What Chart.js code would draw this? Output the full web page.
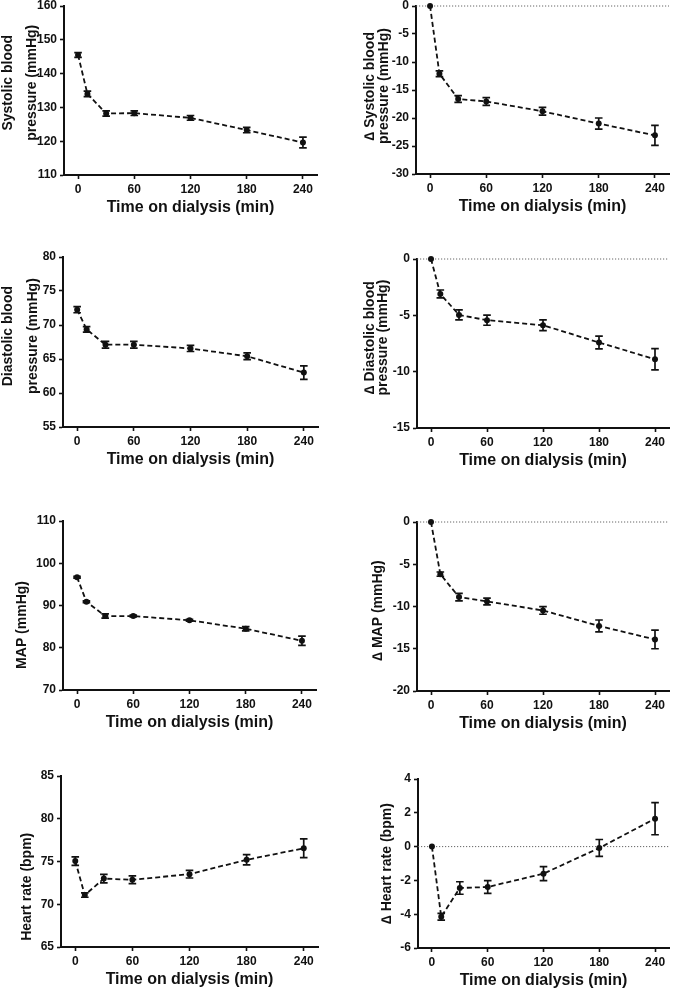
<!DOCTYPE html>
<html>
<head>
<meta charset="utf-8">
<script src="https://cdn.jsdelivr.net/npm/chart.js@4.4.1/dist/chart.umd.min.js"></script>
<style>
html,body{margin:0;padding:0;background:#fff;}
body{width:673px;height:992px;position:relative;overflow:hidden;}
canvas{position:absolute;}
</style>
</head>
<body>
<canvas id="c1"></canvas><canvas id="c2"></canvas>
<canvas id="c3"></canvas><canvas id="c4"></canvas>
<canvas id="c5"></canvas><canvas id="c6"></canvas>
<canvas id="c7"></canvas><canvas id="c8"></canvas>
<script>
// ---------- DATA ----------
const times = [0, 10, 30, 60, 120, 180, 240];
const xTickValues = [0, 60, 120, 180, 240];
const xTitle = 'Time on dialysis (min)';

const sbp      = [145.5, 134.0, 128.2, 128.3, 126.9, 123.3, 119.6];
const sbpErr   = [0.7, 0.8, 0.8, 0.7, 0.7, 0.8, 1.6];
const dSbp     = [0, -12.1, -16.6, -17.05, -18.8, -21.0, -23.1];
const dSbpErr  = [0, 0.5, 0.6, 0.7, 0.7, 1.0, 1.8];

const dbp      = [72.25, 69.35, 67.1, 67.1, 66.55, 65.4, 63.0];
const dbpErr   = [0.45, 0.4, 0.5, 0.5, 0.45, 0.5, 1.0];
const dDbp     = [0, -3.1, -4.96, -5.43, -5.88, -7.41, -8.9];
const dDbpErr  = [0, 0.35, 0.44, 0.45, 0.47, 0.56, 0.94];

const map      = [96.7, 90.9, 87.5, 87.5, 86.5, 84.5, 81.65];
const mapErr   = [0.2, 0.2, 0.5, 0.2, 0.2, 0.5, 1.1];
const dMap     = [0, -6.17, -8.89, -9.4, -10.47, -12.3, -13.9];
const dMapErr  = [0, 0.25, 0.45, 0.4, 0.45, 0.7, 1.1];

const hr       = [75.05, 71.07, 73.0, 72.86, 73.52, 75.2, 76.55];
const hrErr    = [0.5, 0.25, 0.5, 0.45, 0.45, 0.6, 1.1];
const dHr      = [0, -4.15, -2.45, -2.39, -1.6, -0.08, 1.65];
const dHrErr   = [0, 0.2, 0.37, 0.38, 0.41, 0.5, 0.95];

const yTitles = [
  ['Systolic blood', 'pressure (mmHg)'],
  ['\u2206 Systolic blood', 'pressure (mmHg)'],
  ['Diastolic blood', 'pressure (mmHg)'],
  ['\u2206 Diastolic blood', 'pressure (mmHg)'],
  ['MAP (mmHg)'],
  ['\u2206 MAP (mmHg)'],
  ['Heart rate (bpm)'],
  ['\u2206 Heart rate (bpm)']
];
const yRanges = [
  [110, 160, 10], [-30, 0, 5],
  [55, 80, 5],    [-15, 0, 5],
  [70, 110, 10],  [-20, 0, 5],
  [65, 85, 5],    [-6, 4, 2]
];
const seriesValues = [sbp, dSbp, dbp, dDbp, map, dMap, hr, dHr];
const seriesErrors = [sbpErr, dSbpErr, dbpErr, dDbpErr, mapErr, dMapErr, hrErr, dHrErr];
const hasZeroLine  = [false, true, false, true, false, true, false, true];

// ---------- LAYOUT (page pixels) ----------
const layouts = [
  {cx:0,   cy:0,   cw:336, ch:240, L:64,  T:6,   R:317, B:175, lh:24.5, tp:-4.2, shift:-8.5},
  {cx:336, cy:0,   cw:337, ch:240, L:416, T:6,   R:669, B:174, lh:14,   tp:27.3, shift:-3},
  {cx:0,   cy:240, cw:336, ch:250, L:63,  T:257, R:318, B:427, lh:24.5, tp:-3.8, shift:-5},
  {cx:336, cy:240, cw:337, ch:250, L:417, T:259, R:669, B:428, lh:13,   tp:27.8, shift:-6},
  {cx:0,   cy:490, cw:336, ch:250, L:63,  T:521, R:316, B:690, lh:16.8, tp:13.9, shift:19},
  {cx:336, cy:490, cw:337, ch:250, L:417, T:522, R:669, B:691, lh:16.8, tp:33.9, shift:3},
  {cx:0,   cy:740, cw:336, ch:252, L:61,  T:776, R:318, B:947, lh:16.8, tp:18.9, shift:26},
  {cx:336, cy:740, cw:337, ch:252, L:418, T:779, R:669, B:948, lh:16.8, tp:42.3, shift:0}
];
const X_MIN = -15, X_MAX = 255;
const FONT = '"Liberation Sans", Arial, Helvetica, sans-serif';

function padTitle(lines, shift, size) {
  const n = Math.round(2 * Math.abs(shift) / (0.278 * size));
  const sp = ' '.repeat(n);
  return lines.map(t => shift < 0 ? sp + t : t + sp);
}

const errorBarPlugin = {
  id: 'errorBars',
  afterDatasetsDraw(chart, args, opts) {
    const {ctx, scales: {x, y}} = chart;
    const vals = opts.values, errs = opts.errors;
    ctx.save();
    ctx.strokeStyle = '#111';
    ctx.lineWidth = 1.7;
    times.forEach((t, i) => {
      const e = errs[i];
      if (!e) return;
      const px = x.getPixelForValue(t);
      const y1 = y.getPixelForValue(vals[i] + e);
      const y2 = y.getPixelForValue(vals[i] - e);
      const cap = 3.8;
      ctx.beginPath();
      ctx.moveTo(px, y1); ctx.lineTo(px, y2);
      ctx.moveTo(px - cap, y1); ctx.lineTo(px + cap, y1);
      ctx.moveTo(px - cap, y2); ctx.lineTo(px + cap, y2);
      ctx.stroke();
    });
    ctx.restore();
  }
};

layouts.forEach((lay, i) => {
  const cv = document.getElementById('c' + (i + 1));
  cv.width = lay.cw; cv.height = lay.ch;
  cv.style.left = lay.cx + 'px'; cv.style.top = lay.cy + 'px';
  cv.style.width = lay.cw + 'px'; cv.style.height = lay.ch + 'px';

  const yW = lay.L - lay.cx;
  const xH = lay.cy + lay.ch - lay.B;
  const xTitleLh = 19.2;
  const [yMin, yMax, yStep] = yRanges[i];

  const datasets = [{
    data: times.map((t, k) => ({x: t, y: seriesValues[i][k]})),
    borderColor: '#111',
    backgroundColor: '#111',
    borderWidth: 1.8,
    borderDash: [5, 3],
    pointRadius: 3,
    pointBorderWidth: 0,
    pointBackgroundColor: '#111',
    tension: 0,
    clip: false,
    order: 0
  }];
  if (hasZeroLine[i]) {
    datasets.push({
      data: [{x: X_MIN, y: 0}, {x: X_MAX, y: 0}],
      borderColor: '#666',
      borderWidth: 1,
      borderDash: [1.2, 1.8],
      pointRadius: 0,
      clip: false,
      order: 5
    });
  }

  new Chart(cv, {
    type: 'line',
    data: {datasets},
    plugins: [errorBarPlugin],
    options: {
      responsive: false,
      animation: false,
      devicePixelRatio: 1,
      layout: {padding: {left: 0, top: lay.T - lay.cy, right: lay.cx + lay.cw - lay.R, bottom: 0}},
      plugins: {
        legend: {display: false},
        tooltip: {enabled: false},
        errorBars: {values: seriesValues[i], errors: seriesErrors[i]}
      },
      scales: {
        x: {
          type: 'linear',
          min: X_MIN, max: X_MAX,
          afterBuildTicks: s => { s.ticks = xTickValues.map(v => ({value: v})); },
          afterFit: s => { s.height = xH; s.paddingLeft = 0; s.paddingRight = 0; },
          grid: {display: true, drawOnChartArea: false, drawTicks: true, tickLength: 4, tickWidth: 1.6, tickColor: '#111'},
          border: {display: true, color: '#111', width: 2},
          ticks: {color: '#111', padding: 3, maxRotation: 0, autoSkip: false,
                  font: {family: FONT, size: 12, weight: 'bold'}},
          title: {display: true, text: xTitle, color: '#111',
                  font: {family: FONT, size: 16, weight: 'bold', lineHeight: xTitleLh + 'px'},
                  padding: {top: 0, bottom: xH - 33 - xTitleLh / 2}}
        },
        y: {
          type: 'linear',
          min: yMin, max: yMax,
          ticks: {stepSize: yStep, color: '#111', padding: 3,
                  font: {family: FONT, size: 12, weight: 'bold'}},
          afterFit: s => { s.width = yW; s.paddingTop = 0; s.paddingBottom = 0; },
          grid: {display: true, drawOnChartArea: false, drawTicks: true, tickLength: 4, tickWidth: 1.6, tickColor: '#111'},
          border: {display: true, color: '#111', width: 2},
          title: {display: true, text: padTitle(yTitles[i], lay.shift, 14), color: '#111',
                  font: {family: FONT, size: 14, weight: 'bold', lineHeight: lay.lh + 'px'},
                  padding: {top: lay.tp, bottom: 0}}
        }
      }
    }
  });
});
</script>
</body>
</html>
